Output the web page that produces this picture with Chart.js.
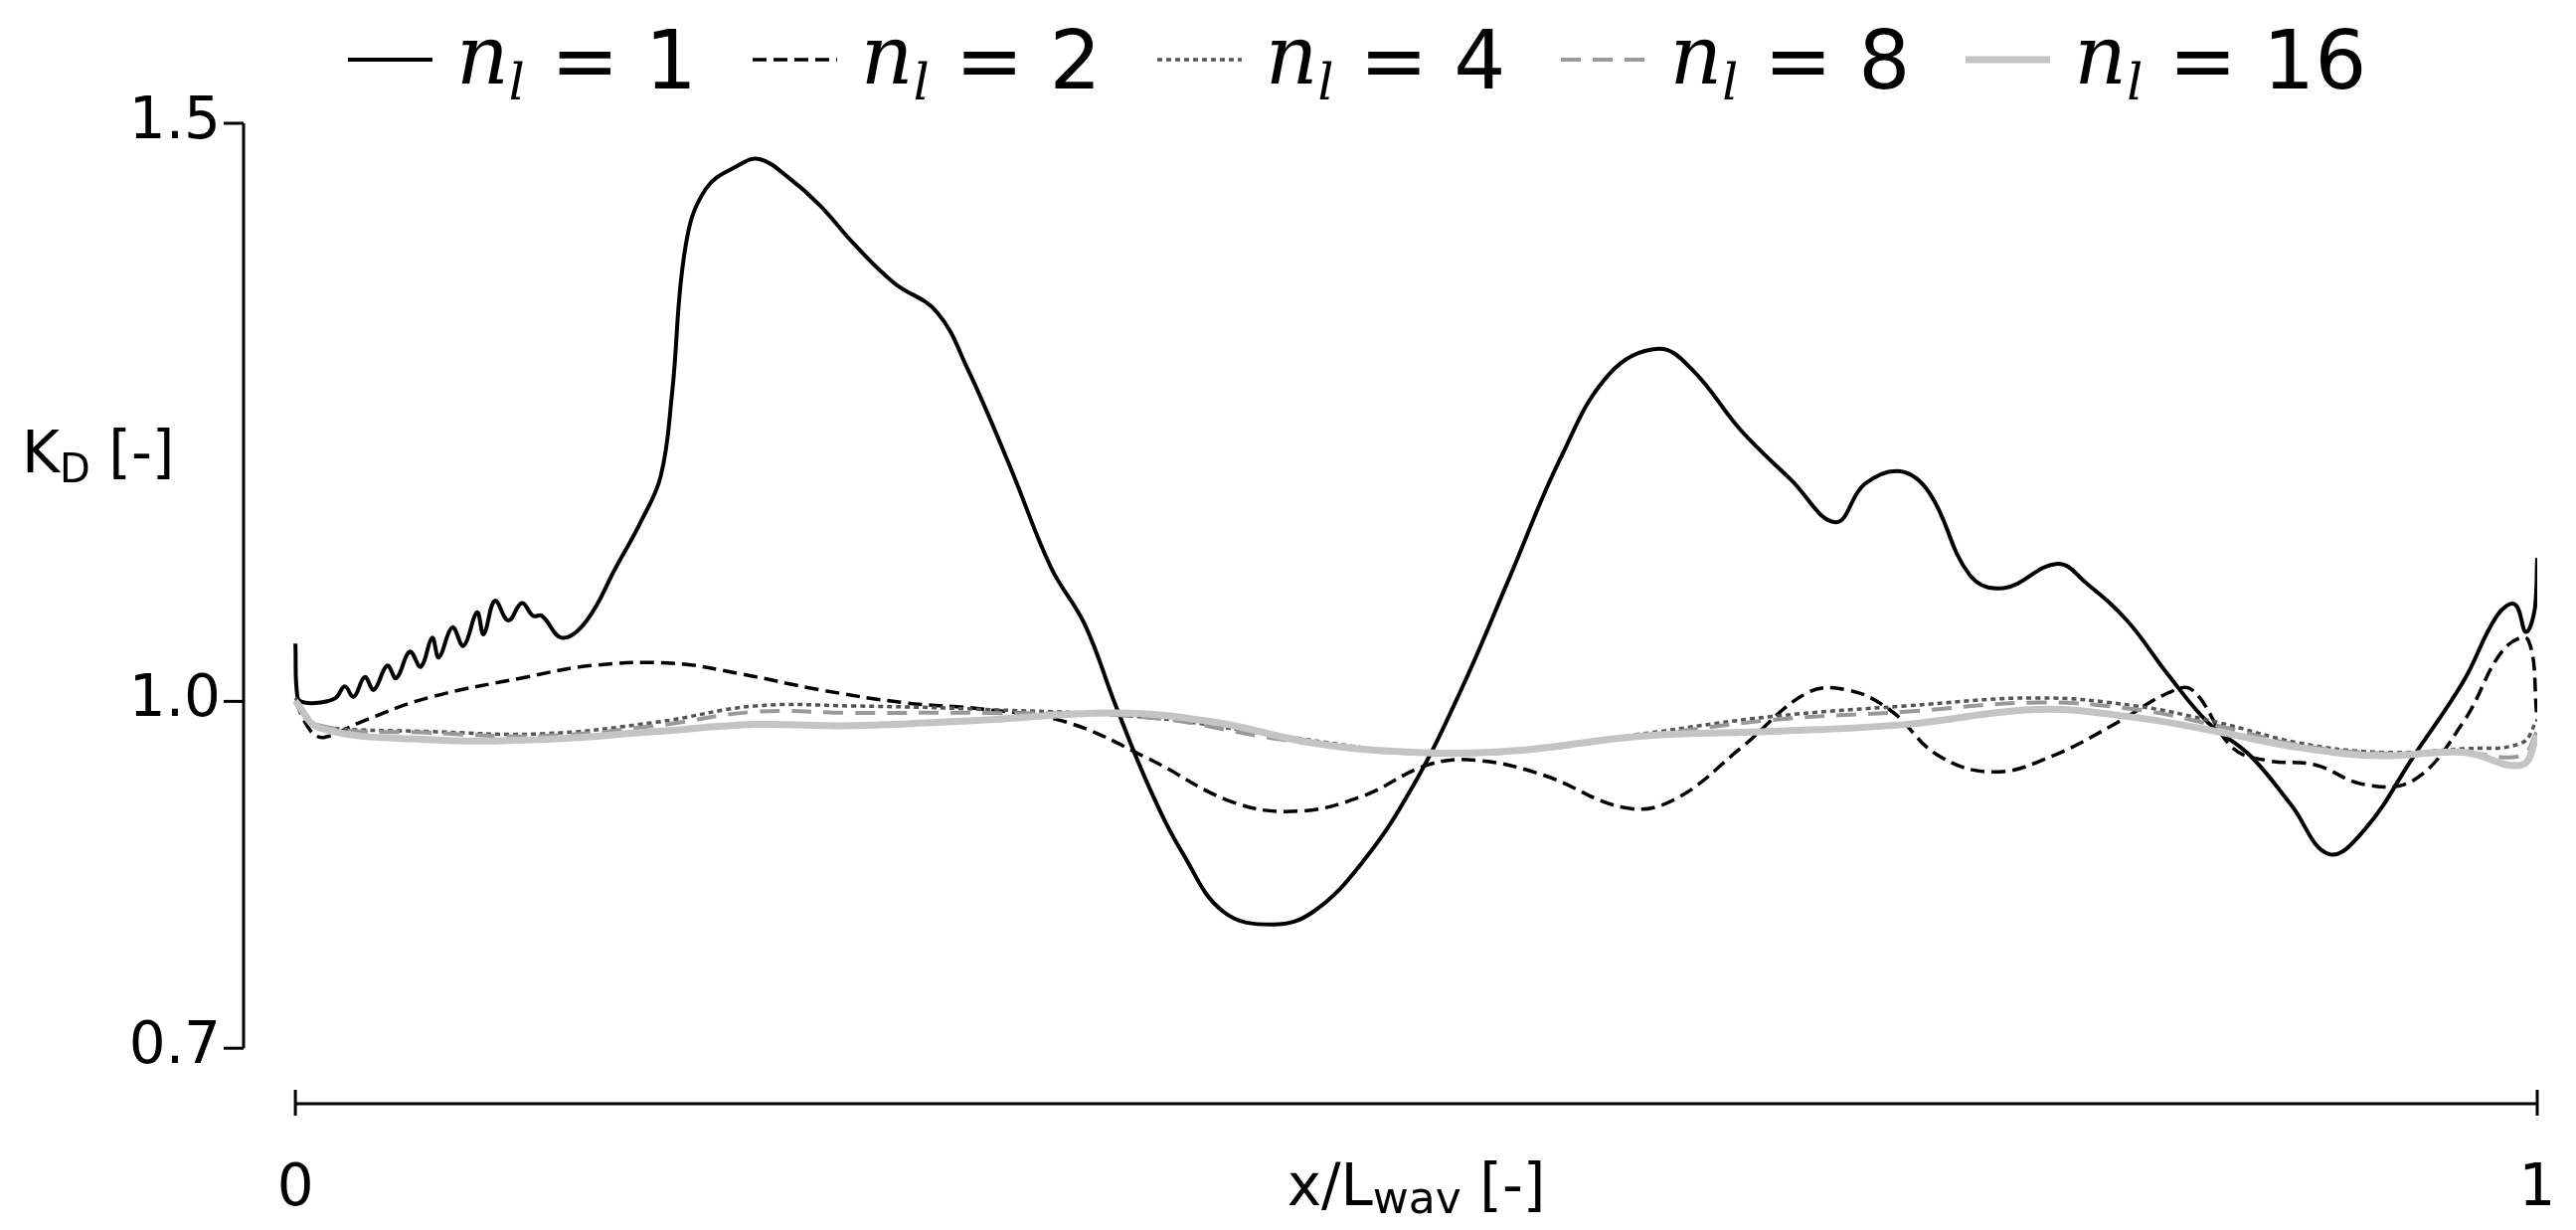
<!DOCTYPE html>
<html>
<head>
<meta charset="utf-8">
<script src="https://cdn.jsdelivr.net/npm/chart.js@4.4.1/dist/chart.umd.min.js"></script>
<style>
  html, body { margin: 0; padding: 0; background: #fff; }
  #wrap { position: relative; width: 2591px; height: 1237px; }
  #legend { position: absolute; left: 350px; top: 8px; display: flex; align-items: center;
            font-family: "DejaVu Sans", sans-serif; font-size: 82px; color: #000; }
  .item { display: flex; align-items: center; margin-right: 56px; }
  .item svg { margin-right: 24px; }
  .n { font-family: "DejaVu Serif", serif; font-style: italic; }
  .n sub { font-size: 50px; vertical-align: -16px; }
</style>
</head>
<body>
<div id="wrap">
  <canvas id="c" width="2591" height="1237"></canvas>
  <div id="legend"></div>
</div>
<script>
// data: x = x/Lwav, y = KD
const x1 = [0, .001, .004, .011, .018, .022, .026, .031, .035, .041, .045, .051, .056, .061, .064, .070, .075, .081, .084, .089, .095, .101, .106, .110, .119, .130, .143, .154, .163, .168, .174, .183, .198, .207, .220, .234, .249, .267, .286, .300, .319, .337, .352, .366, .381, .396, .414, .436, .454, .476, .498, .520, .542, .564, .586, .608, .623, .645, .667, .687, .700, .716, .729, .747, .762, .786, .799, .817, .835, .853, .872, .890, .907, .923, .945, .967, .982, .990, .995, .999, 1];
const y1 = [1.05, 1.003, .999, .999, 1.003, 1.013, 1.004, 1.021, 1.010, 1.031, 1.020, 1.043, 1.030, 1.055, 1.038, 1.064, 1.048, 1.077, 1.058, 1.087, 1.070, 1.085, 1.074, 1.074, 1.055, 1.070, 1.116, 1.155, 1.195, 1.266, 1.393, 1.443, 1.464, 1.469, 1.453, 1.429, 1.396, 1.362, 1.337, 1.287, 1.202, 1.116, 1.067, .996, .925, .868, .818, .807, .818, .861, .925, 1.010, 1.109, 1.209, 1.283, 1.305, 1.287, 1.234, 1.192, 1.155, 1.188, 1.199, 1.180, 1.109, 1.098, 1.119, 1.102, 1.070, 1.024, .982, .953, .911, .868, .889, .953, 1.017, 1.074, 1.084, 1.060, 1.081, 1.124];

const x2 = [0, .007, .013, .029, .059, .103, .132, .168, .198, .234, .271, .308, .344, .381, .418, .447, .476, .505, .527, .557, .593, .615, .645, .674, .692, .711, .733, .758, .784, .813, .835, .846, .864, .879, .901, .923, .945, .967, .985, .996, 1];
const y2 = [1.0, .974, .969, .982, 1.003, 1.021, 1.031, 1.033, 1.024, 1.010, .999, .993, .982, .950, .913, .905, .918, .945, .949, .936, .908, .915, .960, 1.007, 1.010, .993, .953, .939, .953, .982, 1.007, 1.010, .960, .949, .945, .928, .932, .982, 1.045, 1.053, .984];

const x4 = [0, .007, .015, .059, .110, .161, .205, .249, .308, .381, .440, .498, .542, .601, .659, .718, .777, .821, .857, .894, .930, .967, .993, 1];
const y4 = [1.003, .982, .977, .974, .972, .982, .996, .996, .993, .986, .970, .956, .957, .972, .987, .996, 1.003, .996, .982, .964, .956, .959, .964, .984];

const x8 = [0, .011, .059, .110, .161, .205, .249, .308, .381, .440, .498, .542, .601, .659, .718, .777, .821, .857, .894, .930, .967, .993, 1];
const y8 = [1.0, .979, .973, .970, .979, .991, .990, .990, .986, .967, .955, .956, .970, .984, .991, .999, .993, .979, .962, .955, .956, .953, .974];

const x16 = [0, .011, .059, .110, .161, .205, .249, .308, .366, .410, .454, .498, .542, .601, .659, .718, .777, .821, .857, .894, .930, .967, .993, 1];
const y16 = [1.0, .977, .967, .967, .974, .980, .979, .984, .990, .982, .964, .956, .957, .970, .974, .980, .993, .986, .974, .960, .953, .956, .945, .970];

const yTicks = [0.7, 1.0, 1.5];
const xTicks = [0, 1];

const series = [
  { n: '1', x: x1, y: y1, color: '#000', width: 4, dash: [] },
  { n: '2', x: x2, y: y2, color: '#000', width: 3.5, dash: [14, 7] },
  { n: '4', x: x4, y: y4, color: '#555', width: 3.5, dash: [5, 4] },
  { n: '8', x: x8, y: y8, color: '#999', width: 4, dash: [20, 12] },
  { n: '16', x: x16, y: y16, color: '#c4c4c4', width: 7, dash: [] }
];

const pts = (xs, ys) => xs.map((v, i) => ({ x: v, y: ys[i] }));

// legend
const leg = document.getElementById('legend');
series.forEach(s => {
  const d = document.createElement('div');
  d.className = 'item';
  d.innerHTML = `<svg width="85" height="20"><line x1="0" y1="10" x2="85" y2="10" stroke="${s.color}" stroke-width="${s.width}" stroke-dasharray="${s.dash.join(' ')}"/></svg>` +
    `<span class="n">n<sub>l</sub></span>&nbsp;= ${s.n}`;
  leg.appendChild(d);
});

const axesPlugin = {
  id: 'axes',
  afterDraw(chart) {
    const c = chart.ctx, xs = chart.scales.x, ys = chart.scales.y, a = chart.chartArea;
    c.save();
    c.strokeStyle = '#000';
    c.lineWidth = 3;
    c.fillStyle = '#000';
    c.font = '58px "DejaVu Sans"';
    // y axis
    const yl = a.left;
    c.beginPath();
    c.moveTo(yl, ys.getPixelForValue(1.5));
    c.lineTo(yl, ys.getPixelForValue(0.7));
    c.stroke();
    c.textAlign = 'right';
    c.textBaseline = 'middle';
    yTicks.forEach(t => {
      const p = ys.getPixelForValue(t);
      c.beginPath(); c.moveTo(yl - 20, p); c.lineTo(yl, p); c.stroke();
      c.fillText(t.toFixed(1), yl - 23, p);
    });
    // x axis
    const xb = a.bottom;
    const base = xb + 102;
    c.beginPath();
    c.moveTo(xs.getPixelForValue(0), xb);
    c.lineTo(xs.getPixelForValue(1), xb);
    c.stroke();
    c.textAlign = 'center';
    c.textBaseline = 'alphabetic';
    xTicks.forEach(t => {
      const p = xs.getPixelForValue(t);
      c.beginPath(); c.moveTo(p, xb - 14); c.lineTo(p, xb + 12); c.stroke();
      c.fillText(String(t), p, base);
    });
    // x title
    const mid = (xs.getPixelForValue(0) + xs.getPixelForValue(1)) / 2;
    c.textAlign = 'left';
    const parts = [['x/L', 58, 0], ['wav', 44, 8], [' [-]', 58, 0]];
    let w = 0;
    parts.forEach(p => { c.font = p[1] + 'px "DejaVu Sans"'; w += c.measureText(p[0]).width; });
    let cx = mid - w / 2;
    parts.forEach(p => { c.font = p[1] + 'px "DejaVu Sans"'; c.fillText(p[0], cx, base + p[2]); cx += c.measureText(p[0]).width; });
    // y title
    const yparts = [['K', 58, 0], ['D', 40, 10], [' [-]', 58, 0]];
    cx = 22;
    yparts.forEach(p => { c.font = p[1] + 'px "DejaVu Sans"'; c.fillText(p[0], cx, 475 + p[2]); cx += c.measureText(p[0]).width; });
    c.restore();
  }
};

new Chart(document.getElementById('c'), {
  type: 'line',
  data: {
    datasets: series.map(s => ({
      data: pts(s.x, s.y),
      borderColor: s.color,
      borderWidth: s.width,
      borderDash: s.dash,
      pointRadius: 0,
      tension: 0.4,
      fill: false
    })).reverse()
  },
  options: {
    responsive: false,
    animation: false,
    layout: { padding: { left: 245, right: 39, top: 124, bottom: 127 } },
    plugins: { legend: { display: false }, tooltip: { enabled: false } },
    scales: {
      x: { type: 'linear', min: -0.0231, max: 1, display: false },
      y: { min: 0.652, max: 1.5, display: false }
    }
  },
  plugins: [axesPlugin]
});
</script>
</body>
</html>
